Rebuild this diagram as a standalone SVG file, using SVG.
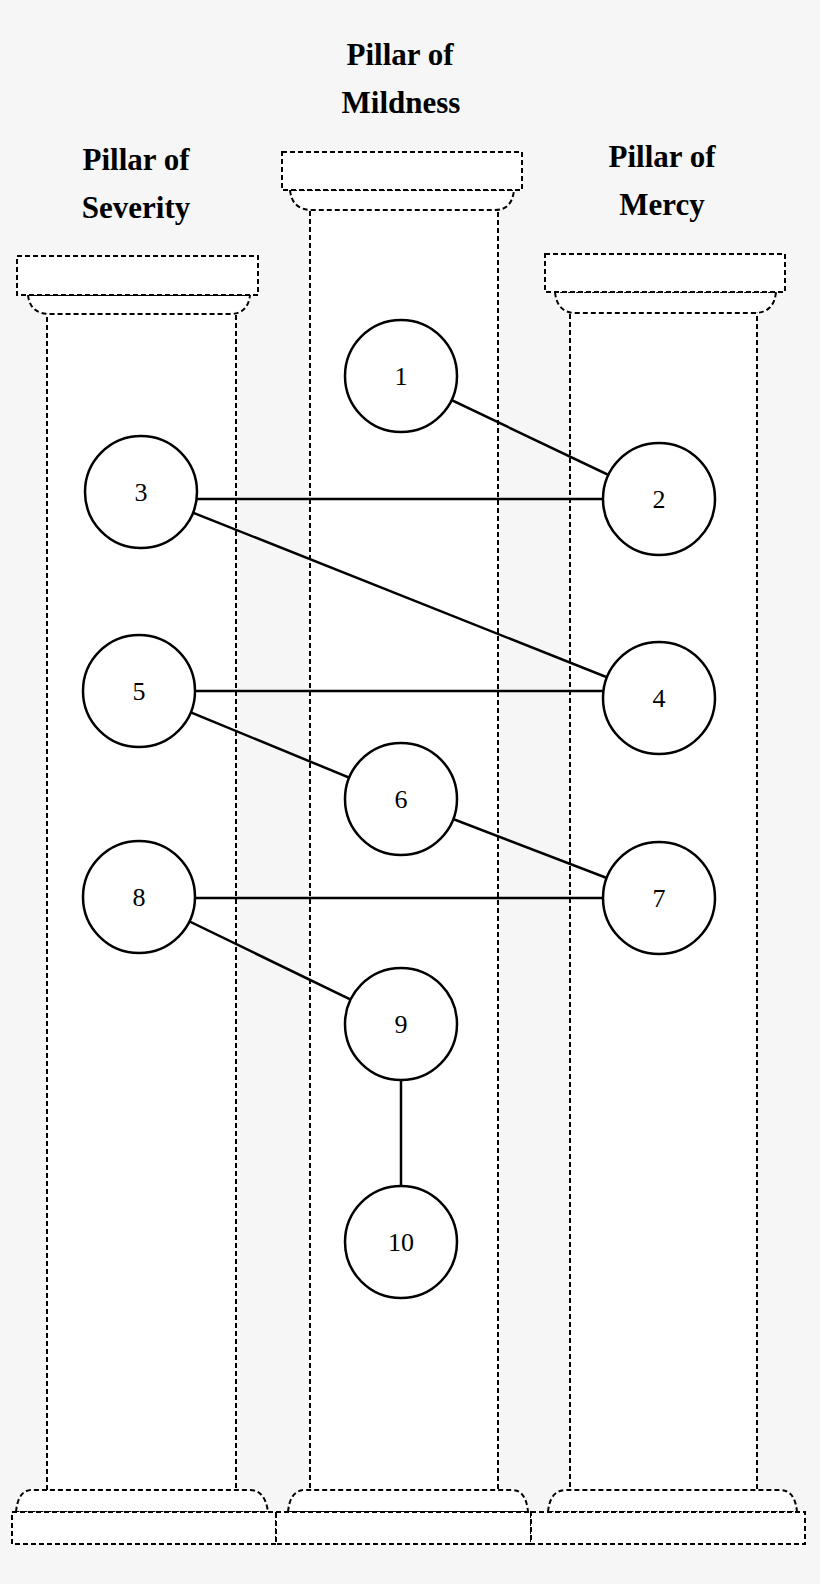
<svg xmlns="http://www.w3.org/2000/svg" width="820" height="1584" viewBox="0 0 820 1584">
<style>
.p{fill:#fff;stroke:#000;stroke-width:2;stroke-dasharray:5 3}
.t{font-family:"Liberation Serif",serif;font-weight:bold;font-size:31px;text-anchor:middle}
.n circle{fill:#fff;stroke:#000;stroke-width:2.5}
.n text{font-family:"Liberation Serif",serif;font-size:26px;text-anchor:middle}
.c line{stroke:#000;stroke-width:2.5}
</style>
<rect width="820" height="1584" fill="#f6f6f6"/>
<g id="pillar-severity">
<rect class="p" x="47" y="312" width="189" height="1180"/>
<path class="p" d="M28 295 Q30 314 50 314 H230 Q248 314 250 295 Z"/>
<rect class="p" x="17" y="256" width="241" height="39"/>
<path class="p" d="M16 1512 Q18 1490 32 1490 H250 Q265 1490 268 1512 Z"/>
<rect class="p" x="12" y="1512" width="264" height="32"/>
<text class="t" x="136" y="170">Pillar of</text>
<text class="t" x="136" y="218">Severity</text>
</g>
<g id="pillar-mildness">
<rect class="p" x="310" y="208" width="188" height="1284"/>
<path class="p" d="M290 190 Q292 210 312 210 H495 Q512 210 514 190 Z"/>
<rect class="p" x="282" y="152" width="240" height="38"/>
<path class="p" d="M288 1512 Q290 1490 305 1490 H512 Q526 1490 528 1512 Z"/>
<rect class="p" x="276" y="1512" width="255" height="32"/>
<text class="t" x="400" y="65">Pillar of</text>
<text class="t" x="401" y="113">Mildness</text>
</g>
<g id="pillar-mercy">
<rect class="p" x="570" y="311" width="187" height="1181"/>
<path class="p" d="M555 292 Q557 313 576 313 H754 Q774 313 776 292 Z"/>
<rect class="p" x="545" y="254" width="240" height="38"/>
<path class="p" d="M548 1512 Q550 1490 566 1490 H780 Q795 1490 797 1512 Z"/>
<rect class="p" x="531" y="1512" width="274" height="32"/>
<text class="t" x="662" y="167">Pillar of</text>
<text class="t" x="662" y="215">Mercy</text>
</g>
<g id="connectors" class="c">
<line x1="401" y1="376" x2="659" y2="499"/>
<line x1="141" y1="499" x2="659" y2="499"/>
<line x1="141" y1="492" x2="659" y2="698"/>
<line x1="139" y1="691" x2="659" y2="691"/>
<line x1="139" y1="691" x2="401" y2="799"/>
<line x1="401" y1="799" x2="659" y2="898"/>
<line x1="139" y1="898" x2="659" y2="898"/>
<line x1="139" y1="897" x2="401" y2="1024"/>
<line x1="401" y1="1024" x2="401" y2="1242"/>
</g>
<g id="n1" class="n"><circle cx="401" cy="376" r="56"/><text x="401" y="385">1</text></g>
<g id="n2" class="n"><circle cx="659" cy="499" r="56"/><text x="659" y="508">2</text></g>
<g id="n3" class="n"><circle cx="141" cy="492" r="56"/><text x="141" y="501">3</text></g>
<g id="n4" class="n"><circle cx="659" cy="698" r="56"/><text x="659" y="707">4</text></g>
<g id="n5" class="n"><circle cx="139" cy="691" r="56"/><text x="139" y="700">5</text></g>
<g id="n6" class="n"><circle cx="401" cy="799" r="56"/><text x="401" y="808">6</text></g>
<g id="n7" class="n"><circle cx="659" cy="898" r="56"/><text x="659" y="907">7</text></g>
<g id="n8" class="n"><circle cx="139" cy="897" r="56"/><text x="139" y="906">8</text></g>
<g id="n9" class="n"><circle cx="401" cy="1024" r="56"/><text x="401" y="1033">9</text></g>
<g id="n10" class="n"><circle cx="401" cy="1242" r="56"/><text x="401" y="1251">10</text></g>
</svg>
